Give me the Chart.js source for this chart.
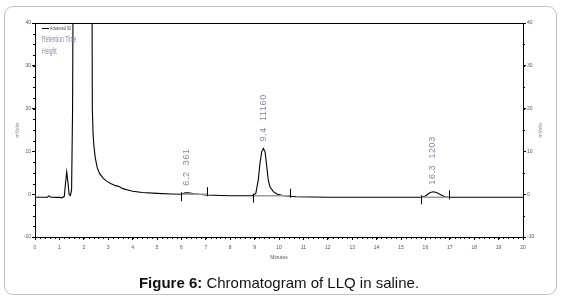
<!DOCTYPE html>
<html>
<head>
<meta charset="utf-8">
<script src="https://cdn.jsdelivr.net/npm/chart.js@4.4.1/dist/chart.umd.min.js"></script>
<style>
  html, body { margin: 0; padding: 0; background: #fff; }
  #wrap { position: relative; width: 565px; height: 302px; overflow: hidden; }
  #frame {
    position: absolute; left: 4px; top: 6px; width: 553px; height: 289px;
    border: 1.5px solid #c4c4c4; border-radius: 9px; box-sizing: border-box;
  }
  #chart { position: absolute; left: 0; top: 0; }
  #caption {
    position: absolute; left: 0; width: 558px; top: 274px; text-align: center;
    font: 15px "Liberation Sans", Arial, sans-serif; color: #111;
  }
</style>
</head>
<body>
<div id="wrap">
  <div id="frame"></div>
  <canvas id="chart" width="565" height="302"></canvas>
  <div id="caption"><b>Figure 6:</b> Chromatogram of LLQ in saline.</div>
</div>
<script>
// chromatogram trace (minutes, mVolts)
const times = [0.0, 0.5, 0.57, 0.65, 1.0, 1.1, 1.2, 1.25, 1.3, 1.35, 1.4, 1.45, 1.5, 1.54, 1.57,
  2.33, 2.35, 2.38, 2.42, 2.47, 2.55, 2.65, 2.8, 2.95, 3.1, 3.3, 3.45, 3.6, 3.8, 4.0, 4.4, 5.0, 5.6,
  6.0, 6.15, 6.3, 6.5, 7.0, 8.0, 8.9, 9.05, 9.15, 9.22, 9.29, 9.36, 9.43, 9.5, 9.56, 9.63, 9.77, 9.91,
  10.2, 10.7, 12.0, 15.8, 16.0, 16.2, 16.32, 16.45, 16.65, 16.8, 17.0, 20.0];
const mvolts = [-0.72, -0.72, -0.4, -0.7, -0.75, -0.85, -0.5, 2.5, 5.2, 2.8, -0.1, -0.3, 1.0, 20, 60,
  60, 20, 14, 11, 8.5, 6.2, 4.8, 3.7, 3.0, 2.5, 2.0, 1.8, 1.3, 1.0, 0.7, 0.4, 0.2, 0.05,
  0.0, 0.3, 0.35, 0.1, -0.2, -0.35, -0.35, 0.2, 3.3, 7.2, 9.9, 10.7, 9.9, 6.4, 3.3, 1.75, 0.6, 0.05,
  -0.35, -0.6, -0.7, -0.72, -0.4, 0.4, 0.58, 0.4, -0.2, -0.6, -0.72, -0.72];

// integrated peaks
const peakRT = ["6.2", "9.4", "16.3"];
const peakArea = ["361", "11160", "1203"];
const peakApexTime = [6.2, 9.36, 16.28];
const peakApexValue = [0.35, 10.7, 0.58];
const peakStart = [5.98, 8.95, 15.81];
const peakEnd = [7.04, 10.45, 16.97];
const peakBase = [0.0, -0.35, -0.72];

const xMin = 0, xMax = 20, yMin = -10, yMax = 40;
const legendItems = ["Retention Time", "Height"];

const tickFont = { family: "Liberation Sans", size: 5 };
const tickColor = "#4e4e80";
const labelColor = "#8088aa";

const extras = {
  id: "extras",
  afterDatasetsDraw(chart) {
    const ctx = chart.ctx;
    const x = chart.scales.x, y = chart.scales.y;
    ctx.save();
    // integration baselines
    ctx.strokeStyle = "#9a9a9a";
    ctx.lineWidth = 1.5;
    for (let i = 0; i < peakStart.length; i++) {
      ctx.beginPath();
      ctx.moveTo(x.getPixelForValue(peakStart[i]), y.getPixelForValue(peakBase[i]));
      ctx.lineTo(x.getPixelForValue(peakEnd[i]), y.getPixelForValue(peakBase[i]));
      ctx.stroke();
    }
    // start / end markers
    ctx.strokeStyle = "#000";
    ctx.lineWidth = 1;
    for (let i = 0; i < peakStart.length; i++) {
      const xs = Math.round(x.getPixelForValue(peakStart[i])) + 0.5;
      const xe = Math.round(x.getPixelForValue(peakEnd[i])) + 0.5;
      const yb = y.getPixelForValue(peakBase[i]);
      ctx.beginPath();
      ctx.moveTo(xs, yb - 2);
      ctx.lineTo(xs, yb + 7);
      ctx.moveTo(xe, yb + 2);
      ctx.lineTo(xe, yb - 7);
      ctx.stroke();
    }
    // peak labels, rotated
    ctx.fillStyle = labelColor;
    ctx.font = "9px 'Liberation Sans'";
    ctx.textAlign = "left";
    ctx.textBaseline = "middle";
    if ("letterSpacing" in ctx) ctx.letterSpacing = "0.6px";
    for (let i = 0; i < peakRT.length; i++) {
      ctx.save();
      ctx.translate(x.getPixelForValue(peakApexTime[i]), y.getPixelForValue(peakApexValue[i]) - 7);
      ctx.rotate(-Math.PI / 2);
      ctx.fillText(peakRT[i] + "  " + peakArea[i], 0, 0);
      ctx.restore();
    }
    ctx.restore();
  },
  afterDraw(chart) {
    const ctx = chart.ctx;
    const a = chart.chartArea;
    const x = chart.scales.x, y = chart.scales.y;
    ctx.save();
    ctx.strokeStyle = "#000";
    ctx.lineWidth = 1;
    // top border
    ctx.beginPath();
    ctx.moveTo(a.left, Math.round(a.top) + 0.5);
    ctx.lineTo(a.right, Math.round(a.top) + 0.5);
    ctx.stroke();
    // minor ticks
    ctx.beginPath();
    for (let v = xMin; v <= xMax + 1e-9; v += 0.2) {
      const px = Math.round(x.getPixelForValue(v)) + 0.5;
      ctx.moveTo(px, a.bottom);
      ctx.lineTo(px, a.bottom + 2);
    }
    for (let v = yMin; v <= yMax + 1e-9; v += 2.5) {
      const py = Math.round(y.getPixelForValue(v)) + 0.5;
      ctx.moveTo(a.left, py);
      ctx.lineTo(a.left - 2, py);
    }
    for (let v = yMin; v <= yMax + 1e-9; v += 5) {
      const py = Math.round(y.getPixelForValue(v)) + 0.5;
      ctx.moveTo(a.right, py);
      ctx.lineTo(a.right + 2, py);
    }
    ctx.stroke();
    // axis titles
    ctx.font = "5px 'Liberation Sans'";
    ctx.fillStyle = "#555";
    ctx.textAlign = "center";
    ctx.textBaseline = "middle";
    ctx.fillText("Minutes", (a.left + a.right) / 2, 258);
    ctx.fillStyle = labelColor;
    [18, 541].forEach(px => {
      ctx.save();
      ctx.translate(px, (a.top + a.bottom) / 2);
      ctx.rotate(-Math.PI / 2);
      ctx.fillText("mVolts", 0, 0);
      ctx.restore();
    });
    // legend
    ctx.beginPath();
    ctx.moveTo(a.left + 7, a.top + 5.5);
    ctx.lineTo(a.left + 14, a.top + 5.5);
    ctx.stroke();
    ctx.textAlign = "left";
    ctx.fillStyle = "#444";
    ctx.save();
    ctx.translate(a.left + 15, a.top + 5.5);
    ctx.scale(0.6, 1);
    ctx.font = "6px 'Liberation Sans'";
    ctx.fillText("Advanced 92", 0, 0);
    ctx.restore();
    ctx.fillStyle = labelColor;
    legendItems.forEach((t, i) => {
      ctx.save();
      ctx.translate(a.left + 7, a.top + 17 + i * 12);
      ctx.scale(0.6, 1);
      ctx.font = "8.5px 'Liberation Sans'";
      ctx.fillText(t, 0, 0);
      ctx.restore();
    });
    ctx.restore();
  }
};

new Chart(document.getElementById("chart"), {
  type: "line",
  data: {
    datasets: [{
      data: times.map((t, i) => ({ x: t, y: mvolts[i] })),
      borderColor: "#000",
      borderWidth: 1.1,
      pointRadius: 0,
      fill: false,
      tension: 0,
      yAxisID: "y",
    }],
  },
  options: {
    responsive: false,
    animation: false,
    devicePixelRatio: 1,
    layout: { padding: { top: 23, left: 0, right: 0, bottom: 0 } },
    plugins: { legend: { display: false }, tooltip: { enabled: false } },
    scales: {
      x: {
        type: "linear", min: xMin, max: xMax, position: "bottom",
        ticks: { stepSize: 1, font: tickFont, color: tickColor, padding: 5, maxRotation: 0 },
        grid: { drawOnChartArea: false, tickLength: 3, color: "#000" },
        border: { color: "#000", width: 1 },
        afterFit: s => { s.height = 65; },
      },
      y: {
        type: "linear", min: yMin, max: yMax, position: "left",
        ticks: { stepSize: 10, font: tickFont, color: tickColor, padding: 1 },
        grid: { drawOnChartArea: false, tickLength: 3, color: "#000" },
        border: { color: "#000", width: 1 },
        afterFit: s => { s.width = 35; },
      },
      y2: {
        type: "linear", min: yMin, max: yMax, position: "right", display: true,
        ticks: { stepSize: 10, font: tickFont, color: tickColor, padding: 1 },
        grid: { drawOnChartArea: false, tickLength: 3, color: "#000" },
        border: { color: "#000", width: 1 },
        afterFit: s => { s.width = 42; },
      },
    },
  },
  plugins: [extras],
});
</script>
</body>
</html>
